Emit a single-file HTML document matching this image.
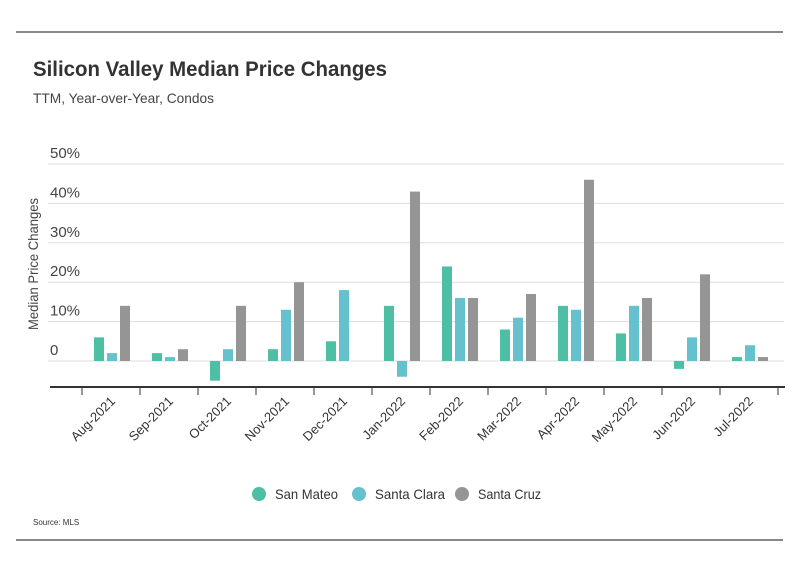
<!DOCTYPE html>
<html><head><meta charset="utf-8"><style>
body{margin:0;background:#fff;font-family:"Liberation Sans",sans-serif;}
svg text{font-family:"Liberation Sans",sans-serif;}
</style></head><body>
<svg width="799" height="575" xmlns="http://www.w3.org/2000/svg">
<line x1="16" y1="32" x2="783" y2="32" stroke="#111" stroke-width="1"/>
<line x1="16" y1="540" x2="783" y2="540" stroke="#111" stroke-width="1"/>
<text x="33" y="76" font-size="21" font-weight="bold" fill="#333" textLength="354" lengthAdjust="spacingAndGlyphs">Silicon Valley Median Price Changes</text>
<text x="33" y="103" font-size="14" fill="#444" textLength="181" lengthAdjust="spacingAndGlyphs">TTM, Year-over-Year, Condos</text>
<text transform="translate(38,264) rotate(-90)" text-anchor="middle" font-size="14" fill="#444" textLength="132" lengthAdjust="spacingAndGlyphs">Median Price Changes</text>
<g id="grid"></g><g id="bars"></g><g id="xaxis"></g>
<g>
<circle cx="259" cy="494" r="7" fill="#4dbfa5"/>
<text x="275" y="499" font-size="14" fill="#333" textLength="63" lengthAdjust="spacingAndGlyphs">San Mateo</text>
<circle cx="359" cy="494" r="7" fill="#66c1cf"/>
<text x="375" y="499" font-size="14" fill="#333" textLength="70" lengthAdjust="spacingAndGlyphs">Santa Clara</text>
<circle cx="462" cy="494" r="7" fill="#959595"/>
<text x="478" y="499" font-size="14" fill="#333" textLength="63" lengthAdjust="spacingAndGlyphs">Santa Cruz</text>
</g>
<text x="33" y="525" font-size="8" fill="#333">Source:  MLS</text>
</svg>
<script>
const categories=["Aug-2021","Sep-2021","Oct-2021","Nov-2021","Dec-2021","Jan-2022","Feb-2022","Mar-2022","Apr-2022","May-2022","Jun-2022","Jul-2022"];
const sanMateo=[6,2,-5,3,5,14,24,8,14,7,-2,1];
const santaClara=[2,1,3,13,18,-4,16,11,13,14,6,4];
const santaCruz=[14,3,14,20,0,43,16,17,46,16,22,1];
const yTicks=[0,10,20,30,40,50];
const yTickLabels=["0","10%","20%","30%","40%","50%"];
const NS="http://www.w3.org/2000/svg";
const x0=82,catW=58,zeroY=361,pxPer=3.94;
function y(v){return zeroY-v*pxPer;}
function xc(i){return x0+catW*(i+0.5);}
function mk(tag,attrs,parent){const e=document.createElementNS(NS,tag);for(const k in attrs)e.setAttribute(k,attrs[k]);parent.appendChild(e);return e;}
const grid=document.getElementById('grid'),bars=document.getElementById('bars'),xa=document.getElementById('xaxis');
yTicks.forEach((t,i)=>{
 const l=mk('line',{x1:48,x2:784,y1:y(t),y2:y(t),stroke:'#ddd','stroke-width':1},grid);
 
 
 const tx=mk('text',{x:50,y:y(t)-6,'font-size':15,fill:'#444'},grid);
 tx.textContent=yTickLabels[i];
 
 
});
const series=[[sanMateo,'#4dbfa5','san-mateo'],[santaClara,'#66c1cf','santa-clara'],[santaCruz,'#959595','santa-cruz']];
categories.forEach((c,i)=>{
 series.forEach((s,j)=>{
  const v=s[0][i]; if(v===0) return;
  const bx=xc(i)-17+j*13;
  const r=mk('rect',{x:bx,y:Math.min(y(v),zeroY),width:10,height:Math.abs(y(v)-zeroY),fill:s[1]},bars);
  
  
 });
});
const ax=mk('line',{x1:50,x2:785,y1:387,y2:387,stroke:'#333','stroke-width':2},xa);


for(let i=0;i<=categories.length;i++){
 const t=mk('line',{x1:x0+catW*i,x2:x0+catW*i,y1:387,y2:395,stroke:'#333','stroke-width':1},xa);
 
 
}
categories.forEach((c,i)=>{
 const t=mk('text',{transform:`translate(${xc(i)+5},${402}) rotate(-45)`,'text-anchor':'end','font-size':13,fill:'#333'},xa);
 t.textContent=c;
 
 
});
</script>
</body></html>
